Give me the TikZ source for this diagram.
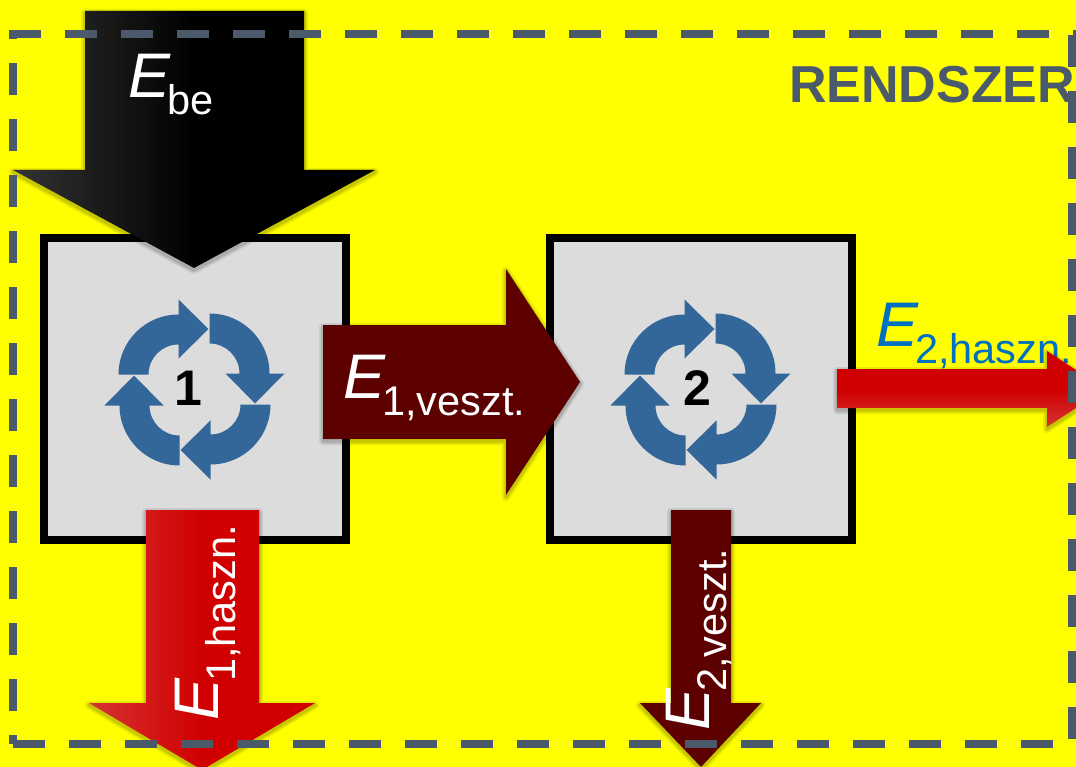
\documentclass[tikz,border=0pt]{standalone}
\usepackage{fontspec}
\setmainfont{Liberation Sans}
\definecolor{bgyellow}{RGB}{255,255,0}
\definecolor{dashgrey}{HTML}{4A5A6A}
\definecolor{boxgrey}{HTML}{DCDCDC}
\definecolor{cycleblue}{HTML}{336699}
\definecolor{lossred}{HTML}{5C0000}
\definecolor{useful}{HTML}{D00000}
\definecolor{usefullight}{HTML}{D63333}
\definecolor{labelblue}{HTML}{0070C0}
\definecolor{blacklight}{HTML}{333333}
\tikzset{
  procbox/.style={draw=black,fill=boxgrey,line width=8pt,miter limit=10},
  framedash/.style={draw=dashgrey,line width=8pt,dash pattern=on 32pt off 24pt},
  elabel/.style={inner sep=0pt,anchor=base west},
  numlabel/.style={inner sep=0pt,font=\fontsize{50}{50}\selectfont\bfseries},
  cyclearrow/.style={fill=cycleblue},
}
\newcommand{\Esub}[1]{{\fontsize{63}{63}\selectfont\itshape E}\hspace{-3pt}\raisebox{-17pt}{\fontsize{41.5}{41.5}\selectfont #1}}
\newcommand{\blockarrow}[2]{%
  \foreach \w in {8,5,3}{\path[draw=black,opacity=.08,line width=\w pt,line join=round,yshift=-2pt] #2;}
  \path[#1] #2;}
\newcommand{\cycleicon}[1]{%
  \foreach \k in {0,1,2,3}{
    \begin{scope}[shift={#1},x=1pt,y=1pt,rotate=-90*\k]
      \fill[cyclearrow] (-76,15) arc[start angle=180,end angle=90,radius=60pt]
        -- (-16,90) -- (14,60.5) -- (-16,31) -- (-16,45)
        arc[start angle=90,end angle=180,radius=30pt] -- cycle;
    \end{scope}
  }}
\begin{document}
\begin{tikzpicture}[x=1pt,y=-1pt]
\useasboundingbox (0,0) rectangle (1076,767);
\clip (0,0) rectangle (1076,767);
\fill[bgyellow] (0,0) rectangle (1076,767);
% blue label lies under the arrow head
\node[elabel,text=labelblue] (e2h) at (876,346) {\Esub{2,haszn.}};
% process boxes
\node[procbox,minimum width=302pt,minimum height=301.5pt,inner sep=0pt] (box1) at (195,389.25) {};
\node[procbox,minimum width=302pt,minimum height=301.5pt,inner sep=0pt] (box2) at (701,389.25) {};
\cycleicon{(194.5,389.5)}
\cycleicon{(700.5,389.5)}
\node[numlabel] (n1) at (188,388) {1};
\node[numlabel] (n2) at (697,388) {2};
% block arrows
\blockarrow{left color=blacklight,right color=black,middle color=black}
  {(85,11) -- (304,11) -- (304,170) -- (375,170) -- (194,268) -- (13,170) -- (85,170) -- cycle}
\blockarrow{fill=lossred}
  {(323,325) -- (506,325) -- (506,269) -- (580,382) -- (506,495) -- (506,439) -- (323,439) -- cycle}
\blockarrow{top color=useful,bottom color=usefullight,middle color=useful}
  {(837,369) -- (1047,369) -- (1047,351) -- (1105,389) -- (1047,427) -- (1047,408) -- (837,408) -- cycle}
\blockarrow{left color=usefullight,right color=useful,middle color=useful}
  {(146,510) -- (259,510) -- (259,703) -- (315,703) -- (202,770) -- (89,703) -- (146,703) -- cycle}
\blockarrow{fill=lossred}
  {(671,510) -- (731,510) -- (731,703) -- (761,703) -- (701,767) -- (640,703) -- (671,703) -- cycle}
% system frame
\draw[framedash] (9,34) -- (1076,34);
\draw[framedash,dash phase=23pt] (13,30) -- (13,744);
\draw[framedash] (13,744) -- (1060,744);
\draw[framedash] (1072,35) -- (1072,744);
% labels
\node[elabel,text=dashgrey,font=\fontsize{52}{52}\selectfont\bfseries] (sys) at (789,103) {RENDSZER};
\node[elabel,text=white] (ebe) at (128,98) {\Esub{be}};
\node[elabel,text=white] (e1v) at (343,398) {\Esub{1,veszt.}};
\node[elabel,text=white,rotate=90] (e1h) at (218,721) {\Esub{1,haszn.}};
\node[elabel,text=white,rotate=90] (e2v) at (709.5,731) {\Esub{2,veszt.}};
\end{tikzpicture}
\end{document}
